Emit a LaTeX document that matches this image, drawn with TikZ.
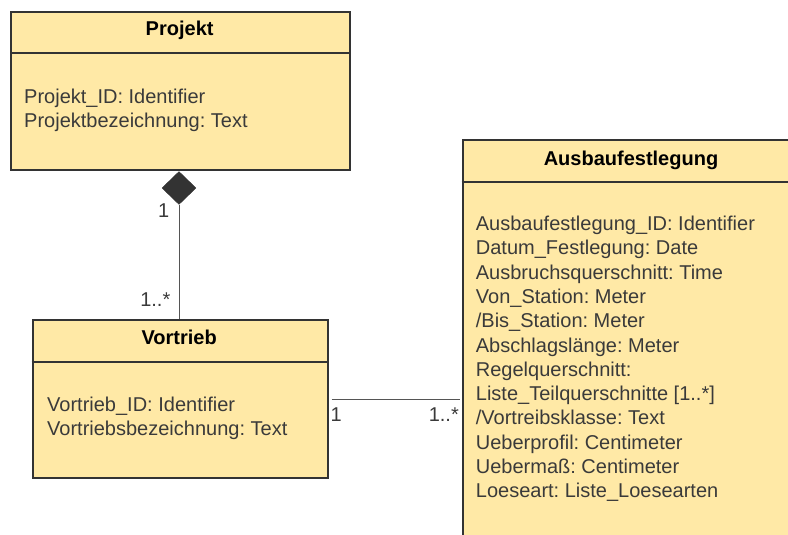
\documentclass[tikz,border=0pt]{standalone}
\usepackage{fontspec}
\setmainfont{Liberation Sans}
\usetikzlibrary{shapes.geometric}
\frenchspacing

\definecolor{classfill}{HTML}{FFE9A6}
\definecolor{classline}{HTML}{333333}
\definecolor{textgrey}{HTML}{3A3A3A}
\definecolor{connline}{HTML}{555555}

\tikzset{
  classbox/.style={draw=classline, fill=classfill, line width=2pt,
    rectangle, inner sep=0pt, anchor=north west},
  divider/.style={draw=classline, line width=2pt},
  classtitle/.style={font=\fontsize{20}{24.3}\selectfont\bfseries,
    text=black, inner sep=0pt, anchor=base},
  % multi-line attribute lists: the base anchor sits on the last line
  attrs/.style={font=\fontsize{20}{24.3}\selectfont, text=textgrey,
    align=left, inner sep=0pt, anchor=base west},
  mult/.style={font=\fontsize{20}{24}\selectfont, text=textgrey, inner sep=0pt},
  assoc/.style={draw=connline, line width=1pt},
  composition/.style={diamond, fill=classline, draw=classline, inner sep=0pt,
    minimum width=34pt, minimum height=33pt},
}

\begin{document}
\begin{tikzpicture}[x=1pt, y=-1pt]
  \useasboundingbox (0,0) rectangle (788,535);
  \clip (0,0) rectangle (788,535);

  % Projekt
  \node[classbox, minimum width=339.3pt, minimum height=158.3pt] (projekt) at (10,11) {};
  \draw[divider] (10,53.3) -- (349.3,53.3);
  \node[classtitle] (projekt-title) at (179.65,36) {Projekt};
  \node[attrs] (projekt-attrs) at (24,127.8)
    {Projekt\_ID: Identifier\\Projektbezeichnung: Text};

  % Vortrieb
  \node[classbox, minimum width=295pt, minimum height=157.4pt] (vortrieb) at (31.7,319.3) {};
  \draw[divider] (31.7,362.3) -- (326.7,362.3);
  \node[classtitle] (vortrieb-title) at (179.2,344.3) {Vortrieb};
  \node[attrs] (vortrieb-attrs) at (47,435.8)
    {Vortrieb\_ID: Identifier\\Vortriebsbezeichnung: Text};

  % Ausbaufestlegung (continues past the right and lower edges)
  \node[classbox, minimum width=360pt, minimum height=420pt] (ausbau) at (461.7,139.3) {};
  \draw[divider] (461.7,181.7) -- (830,181.7);
  \node[classtitle] (ausbau-title) at (631,165) {Ausbaufestlegung};
  \node[attrs] (ausbau-attrs) at (475.7,497.8)
    {Ausbaufestlegung\_ID: Identifier\\
     Datum\_Festlegung: Date\\
     Ausbruchsquerschnitt: Time\\
     Von\_Station: Meter\\
     /Bis\_Station: Meter\\
     Abschlagslänge: Meter\\
     Regelquerschnitt:\\
     Liste\_Teilquerschnitte [1..*]\\
     /Vortreibsklasse: Text\\
     Ueberprofil: Centimeter\\
     Uebermaß: Centimeter\\
     Loeseart: Liste\_Loesearten};

  % Composition Projekt <>-- Vortrieb
  \node[composition] (comp) at (179,188) {};
  \draw[assoc] (comp.south) -- (vortrieb.north -| comp.south);
  \node[mult, anchor=base east] (m-comp-1) at (169.5,217.5) {1};
  \node[mult, anchor=base east] (m-comp-n) at (170.5,306) {1..*};

  % Association Vortrieb -- Ausbaufestlegung
  \coordinate (assoc-end) at (ausbau.west |- vortrieb.east);
  \draw[assoc, shorten <=3pt, shorten >=1.5pt] (vortrieb.east) -- (assoc-end);
  \node[mult, anchor=base west] (m-assoc-1) at (330.5,421.5) {1};
  \node[mult, anchor=base east] (m-assoc-n) at (459,421.5) {1..*};
\end{tikzpicture}
\end{document}
